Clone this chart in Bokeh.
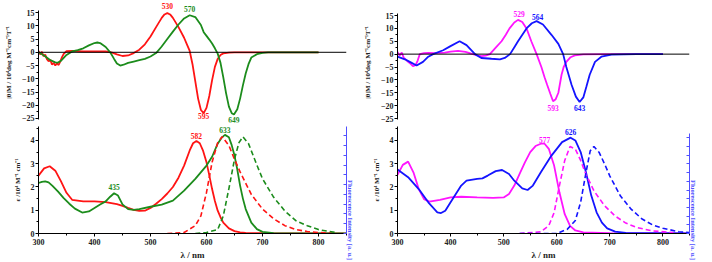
import math
from bokeh.plotting import figure
from bokeh.layouts import row, column
from bokeh.models import LinearAxis, Range1d, Span, Label, FixedTicker, CustomJSTickFormatter
from bokeh.embed import file_html
from bokeh.resources import INLINE

# ---------------- data ----------------
# Left-top: MCD (red / green)
wl_tl_red = [300,303,306,309,312,315,318,321,324,327,330,333,336,339,342,345,350,360,380,400,
             420,430,440,450,460,470,480,490,500,510,520,525,530,535,540,550,560,565,570,575,
             580,585,590,595,600,605,610,615,620,625,630,640,650,700,750,800]
mcd_tl_red = [0.5,-0.8,0.2,-1.5,-0.9,-2.6,-3.4,-2.8,-4.6,-4.0,-5.0,-4.2,-4.8,-3.4,-1.8,-0.6,0.4,0.5,0.3,0.3,
              0.3,0.0,-0.8,-1.4,-1.2,-0.3,1.0,3.0,6.0,9.5,13.0,14.3,14.8,14.3,13.0,9.5,5.5,3.0,0.5,-4.5,
              -11.0,-17.5,-21.8,-23.0,-21.0,-16.5,-10.5,-5.5,-2.5,-1.0,-0.4,-0.1,0.0,0.0,0.0,0.0]
wl_tl_green = [300,310,320,330,335,340,350,360,370,380,390,400,405,410,420,428,435,440,446,452,
               460,470,480,490,500,510,520,530,540,550,560,570,580,590,595,600,605,610,615,620,
               625,630,635,640,645,649,655,660,665,670,675,680,690,700,710,750,800]
mcd_tl_green = [0.0,-1.2,-2.8,-3.8,-3.9,-3.2,-1.0,0.3,0.8,1.5,2.6,3.5,3.7,3.5,2.0,0.0,-2.5,-4.2,-5.0,-4.7,
                -4.0,-3.5,-3.0,-2.5,-1.6,-0.3,2.2,5.0,7.8,10.5,12.8,14.0,13.3,10.3,7.6,6.2,4.8,3.3,1.5,-0.5,
                -4.0,-9.5,-15.5,-20.5,-23.0,-23.5,-21.5,-17.5,-12.5,-8.0,-4.5,-2.0,-0.7,-0.2,0.0,0.0,0.0]
tl_peak_text = ["530", "570", "595", "649"]
tl_peak_y = [17.3, 16.2, -24.1, -25.4]

# Left-bottom: absorption (solid) and fluorescence (dashed)
wl_bl_red = [300,310,320,330,340,350,360,380,400,420,440,450,460,470,480,490,500,510,520,530,
             540,550,560,570,576,582,588,594,600,605,610,615,620,625,630,640,650,660,670,680,
             700,750,800,850]
abs_bl_red = [2.49,2.80,2.89,2.70,2.25,1.75,1.45,1.38,1.38,1.35,1.26,1.19,1.10,1.02,0.97,0.98,1.10,1.28,1.48,1.72,
              2.00,2.40,2.92,3.57,3.88,3.98,3.88,3.55,3.06,2.50,1.91,1.40,0.98,0.70,0.47,0.22,0.10,0.05,0.03,0.02,
              0.01,0.0,0.0,0.0]
wl_bl_green = [300,306,312,318,325,335,345,355,365,378,390,400,410,420,428,435,442,450,460,470,
               480,500,520,540,560,580,600,610,620,627,633,640,645,650,655,660,665,670,680,690,
               700,720,760,850]
abs_bl_green = [2.17,2.22,2.24,2.20,2.05,1.80,1.52,1.28,1.07,0.90,0.95,1.10,1.25,1.38,1.58,1.73,1.63,1.25,1.05,1.02,
                1.05,1.15,1.24,1.41,1.84,2.35,2.92,3.30,3.86,4.12,4.24,4.14,3.80,3.35,2.75,2.06,1.50,1.05,0.47,0.19,
                0.07,0.02,0.0,0.0]
wl_fl_red = [530,560,580,590,600,610,620,628,640,650,660,680,700,720,740,760,780,800,830]
fl_red = [0.0,0.01,0.08,0.18,0.42,0.73,0.93,0.99,0.90,0.76,0.63,0.40,0.25,0.15,0.08,0.04,0.02,0.01,0.0]
wl_fl_green = [580,600,620,630,640,650,658,665,675,690,700,720,740,760,780,800,830]
fl_green = [0.0,0.01,0.04,0.18,0.46,0.76,0.93,0.99,0.92,0.70,0.56,0.37,0.23,0.13,0.08,0.04,0.01]
bl_peak_text = ["582", "633", "435"]
bl_peak_y = [4.21, 4.43, 1.99]

# Right-top: MCD (magenta / blue)
wl_tr_mag = [300,304,308,312,316,320,324,329,334,338,342,350,358,370,389,400,414,428,442,450,
             458,466,474,485,496,504,511,520,527,535,543,552,562,571,577,582,588,593,598,603,
             609,613,618,626,634,650,700,750,800]
mcd_tr_mag = [0.8,-0.5,0.6,-1.5,-2.2,-3.0,-3.6,-4.7,-4.3,-2.5,0.0,0.4,0.5,0.4,0.6,1.0,1.3,0.9,0.0,-0.5,
              -0.8,-0.6,0.0,2.5,5.0,7.5,10.0,12.3,13.3,12.5,10.0,5.0,0.0,-5.0,-9.0,-12.0,-15.5,-18.3,-17.5,-15.0,
              -8.0,-5.0,-3.0,-1.2,-0.5,-0.1,0.0,0.0,0.0]
wl_tr_blue = [300,314,325,336,348,358,367,386,399,417,430,446,458,477,493,502,512,521,527,543,
              553,562,574,590,603,612,618,628,636,643,650,656,662,672,684,703,750,800]
mcd_tr_blue = [-1.0,-2.0,-3.2,-4.4,-3.0,-1.0,0.0,1.5,3.0,5.0,3.5,0.0,-1.5,-1.8,-2.0,-1.5,0.0,3.0,5.0,10.0,
               12.0,12.8,11.5,7.5,4.0,0.0,-5.0,-12.0,-16.5,-18.6,-16.8,-12.5,-8.0,-3.0,-1.0,-0.2,0.0,0.0]
tr_peak_text = ["529", "564", "593", "643"]
tr_peak_y = [15.4, 14.6, -20.9, -20.9]

# Right-bottom: absorption and fluorescence
wl_br_mag = [300,310,320,330,340,350,360,380,400,420,450,480,500,510,520,530,540,550,560,570,
             577,585,595,605,615,625,635,650,700,850]
abs_br_mag = [2.52,2.95,3.09,2.63,1.91,1.48,1.37,1.45,1.55,1.58,1.55,1.53,1.55,1.70,2.06,2.56,3.06,3.50,3.76,3.86,
              3.86,3.64,2.92,1.77,0.83,0.33,0.13,0.05,0.02,0.0]
wl_br_blue = [300,320,340,358,375,382,390,400,420,430,450,460,470,485,497,510,520,535,545,555,
              570,590,610,626,635,645,655,665,675,685,695,710,730,850]
abs_br_blue = [2.75,2.42,1.91,1.34,0.91,0.88,0.98,1.34,2.06,2.27,2.35,2.37,2.49,2.68,2.73,2.56,2.27,1.94,1.87,2.06,
               2.63,3.35,3.93,4.12,4.00,3.50,2.63,1.63,0.91,0.47,0.22,0.08,0.03,0.0]
wl_fl_mag = [530,570,585,595,605,615,625,635,645,655,670,690,710,730,750,780,820]
fl_mag = [0.0,0.02,0.09,0.24,0.55,0.84,1.0,0.97,0.84,0.68,0.49,0.32,0.2,0.12,0.07,0.03,0.01]
wl_fl_blue = [530,600,620,635,645,655,663,670,680,690,700,720,740,760,780,800,830,850]
fl_blue = [0.0,0.0,0.05,0.15,0.36,0.70,0.95,1.0,0.93,0.80,0.66,0.43,0.28,0.17,0.10,0.06,0.02,0.01]
br_peak_text = ["577", "626"]
br_peak_y = [4.04, 4.36]

mcd_ticks = [-25, -20, -15, -10, -5, 0, 5, 10, 15]
abs_ticks = [0, 1, 2, 3, 4]
wl_ticks = [300, 400, 500, 600, 700, 800]

# ---------------- style ----------------
FONT = "Liberation Serif"
RED = "#ff1414"
GREEN = "#1c8c1c"
MAGENTA = "#ff14ff"
BLUE = "#1414ff"
AXBLUE = "#5050ff"
TXT = "#222222"
MCD_LABEL = "|\u03b8|M / 10\u2074deg M\u207b\u00b9cm\u207b\u00b9T\u207b\u00b9"
EPS_LABEL = "\u03b5 /10\u2074 M\u207b\u00b9 cm\u207b\u00b9"
FL_LABEL = "Fluorescence Intensity [a. u.]"


def style_axis(ax):
    ax.major_label_text_font = FONT
    ax.major_label_text_font_style = "bold"
    ax.major_label_text_font_size = "8px"
    ax.major_label_text_color = TXT
    ax.axis_label_text_font = FONT
    ax.axis_label_text_font_style = "bold"
    ax.axis_label_text_font_size = "7px"
    ax.axis_label_text_color = TXT
    ax.major_tick_in = 0
    ax.major_tick_out = 3
    ax.minor_tick_in = 0
    ax.minor_tick_out = 2
    ax.major_label_standoff = 1
    ax.axis_label_standoff = 6
    ax.axis_line_width = 1


def base_fig(fw, fh, yr, bl, br, bt, bb):
    p = figure(frame_width=fw, frame_height=fh, x_range=Range1d(300, 850),
               y_range=Range1d(*yr), output_backend="svg", toolbar_location=None,
               min_border_left=bl, min_border_right=br, min_border_top=bt,
               min_border_bottom=bb)
    p.xgrid.visible = False
    p.ygrid.visible = False
    p.outline_line_color = None
    return p


def peak_labels(p, texts, ys, color):
    for t, y in zip(texts, ys):
        p.add_layout(Label(x=float(t), y=y, text=t, text_align="center",
                           text_baseline="middle", text_font=FONT,
                           text_font_style="bold", text_font_size="7.5px",
                           text_color=color))


def mcd_fig(fw, fh, yr, bounds, bl, br, bt, bb, series, labels):
    p = base_fig(fw, fh, yr, bl, br, bt, bb)
    p.xaxis.visible = False
    ax = p.yaxis[0]
    ax.ticker = FixedTicker(ticks=mcd_ticks,
                            minor_ticks=[t + 2.5 for t in mcd_ticks[:-1]])
    ax.bounds = bounds
    ax.axis_label = MCD_LABEL
    style_axis(ax)
    p.add_layout(Span(location=0, dimension="width", line_color="black", line_width=1))
    for wl, vals, color in series:
        p.line(wl, vals, line_color=color, line_width=1.8)
    for texts, ys, color in labels:
        peak_labels(p, texts, ys, color)
    return p


def abs_fig(fw, bl, br, fl_range, fl_bounds, series, fl_series, labels):
    p = base_fig(fw, 107, (0, 4.6), bl, br, 0, 29)
    xa = p.xaxis[0]
    xa.ticker = FixedTicker(ticks=wl_ticks, minor_ticks=[t + 50 for t in wl_ticks])
    xa.axis_label = "\u03bb / nm"
    style_axis(xa)
    xa.axis_label_text_font_size = "9px"
    xa.axis_label_standoff = 2
    xa.major_label_standoff = 2
    ya = p.yaxis[0]
    ya.ticker = FixedTicker(ticks=abs_ticks, minor_ticks=[t + 0.5 for t in abs_ticks])
    ya.axis_label = EPS_LABEL
    style_axis(ya)

    p.extra_y_ranges = {"fl": Range1d(*fl_range)}
    ra = LinearAxis(y_range_name="fl", bounds=fl_bounds,
                    ticker=FixedTicker(ticks=[i / 10 for i in range(12)], minor_ticks=[]),
                    formatter=CustomJSTickFormatter(code="return ''"))
    ra.major_label_text_font_size = "6px"
    ra.major_label_standoff = 0
    ra.major_tick_in = 3
    ra.major_tick_out = 0
    ra.minor_tick_in = 0
    ra.minor_tick_out = 0
    ra.axis_line_color = AXBLUE
    ra.major_tick_line_color = AXBLUE
    ra.axis_label = FL_LABEL
    ra.axis_label_text_font = FONT
    ra.axis_label_text_font_style = "bold"
    ra.axis_label_text_font_size = "6.5px"
    ra.axis_label_text_color = AXBLUE
    ra.axis_label_standoff = 4
    if "axis_label_orientation" in ra.properties():
        ra.axis_label_orientation = -math.pi / 2
    p.add_layout(ra, "right")

    for wl, vals, color in series:
        p.line(wl, vals, line_color=color, line_width=1.8)
    for wl, vals, color in fl_series:
        p.line(wl, vals, line_color=color, line_width=1.6, line_dash="5 3",
               y_range_name="fl")
    for texts, ys, color in labels:
        peak_labels(p, texts, ys, color)
    return p


tl = mcd_fig(308, 120, (-26.52, 18.81), (-25.4, 15.8), 38, 14, 2, 4,
             [(wl_tl_red, mcd_tl_red, RED), (wl_tl_green, mcd_tl_green, GREEN)],
             [(tl_peak_text[0::2], tl_peak_y[0::2], RED),
              (tl_peak_text[1::2], tl_peak_y[1::2], GREEN)])

bl = abs_fig(308, 38, 14, (0, 1.095), (0, 1.095),
             [(wl_bl_red, abs_bl_red, RED), (wl_bl_green, abs_bl_green, GREEN)],
             [(wl_fl_red, fl_red, RED), (wl_fl_green, fl_green, GREEN)],
             [(bl_peak_text[:1], bl_peak_y[:1], RED),
              (bl_peak_text[1:], bl_peak_y[1:], GREEN)])

tr = mcd_fig(292, 120, (-26.55, 20.05), (-25.39, 15.78), 31, 29, 2, 4,
             [(wl_tr_mag, mcd_tr_mag, MAGENTA), (wl_tr_blue, mcd_tr_blue, BLUE)],
             [(tr_peak_text[0::2], tr_peak_y[0::2], MAGENTA),
              (tr_peak_text[1::2], tr_peak_y[1::2], BLUE)])

br = abs_fig(292, 31, 29, (0, 1.23), (0, 1.15),
             [(wl_br_mag, abs_br_mag, MAGENTA), (wl_br_blue, abs_br_blue, BLUE)],
             [(wl_fl_mag, fl_mag, MAGENTA), (wl_fl_blue, fl_blue, BLUE)],
             [(br_peak_text[:1], br_peak_y[:1], MAGENTA),
              (br_peak_text[1:], br_peak_y[1:], BLUE)])

layout = row(column(tl, bl), column(tr, br),
             styles={"position": "absolute", "left": "0px", "top": "0px"})

open("out.html", "w").write(file_html(layout, INLINE))
